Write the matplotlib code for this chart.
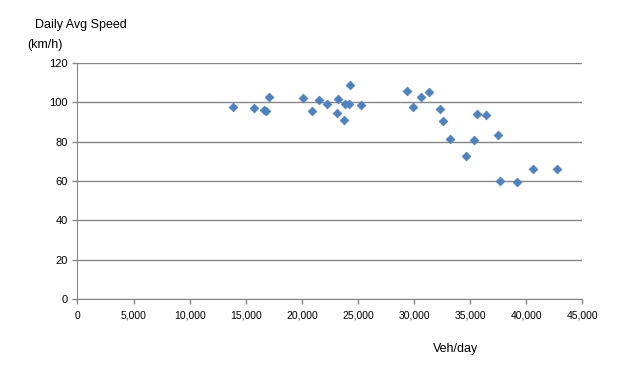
import matplotlib.pyplot as plt
from matplotlib.ticker import FuncFormatter

# Datos
veh_dia = [13840, 15720, 16640, 16820, 17080, 20120, 20920, 21540, 22230,
           23120, 23210, 23770, 23860, 24220, 24310, 25290,
           29390, 29900, 30620, 31330, 32310, 32580, 33200, 34630, 35340,
           35610, 36410, 37480, 37690, 39180, 40600, 42750]
velocidad = [97.8, 97.3, 96.1, 95.6, 102.9, 102.4, 95.7, 101.2, 99.3,
             94.7, 101.7, 91.2, 99.3, 99.3, 109.0, 98.8,
             105.9, 97.8, 102.9, 105.4, 96.7, 90.6, 81.5, 72.9, 81.0,
             94.2, 93.7, 83.5, 60.1, 59.6, 66.2, 66.2]

x_ticks = list(range(0, 45001, 5000))
y_ticks = list(range(0, 121, 20))

plt.rcParams['font.family'] = ['Liberation Sans', 'DejaVu Sans']

fig = plt.figure(figsize=(6.26, 3.68), dpi=100)
ax = fig.add_axes([0.1238, 0.1875, 0.8067, 0.6413])

ax.scatter(veh_dia, velocidad, marker='D', s=20, color='#4F81BD',
           edgecolors='#4F81BD', linewidths=0.5, zorder=3)

ax.set_xlim(0, 45000)
ax.set_ylim(0, 120)
ax.set_xticks(x_ticks)
ax.set_yticks(y_ticks)
ax.xaxis.set_major_formatter(FuncFormatter(lambda v, p: f"{int(v):,}"))

ax.grid(axis='y', color='#868686', linewidth=1)
ax.set_axisbelow(True)
for lado in ['top', 'right']:
    ax.spines[lado].set_visible(False)
for lado in ['left', 'bottom']:
    ax.spines[lado].set_color('#868686')
ax.tick_params(colors='#868686', labelcolor='black', labelsize=7.5,
               length=3.5, width=1)
ax.tick_params(axis='y', labelsize=8)
ax.tick_params(axis='x', pad=5)

fig.text(35 / 626, 1 - 25 / 368, "Daily Avg Speed", fontsize=9, va='center')
fig.text(27 / 626, 1 - 45 / 368, "(km/h)", fontsize=9, va='center')
fig.text(433 / 626, 1 - 349 / 368, "Veh/day", fontsize=9, va='center')

fig.savefig("out.png", dpi=100)
